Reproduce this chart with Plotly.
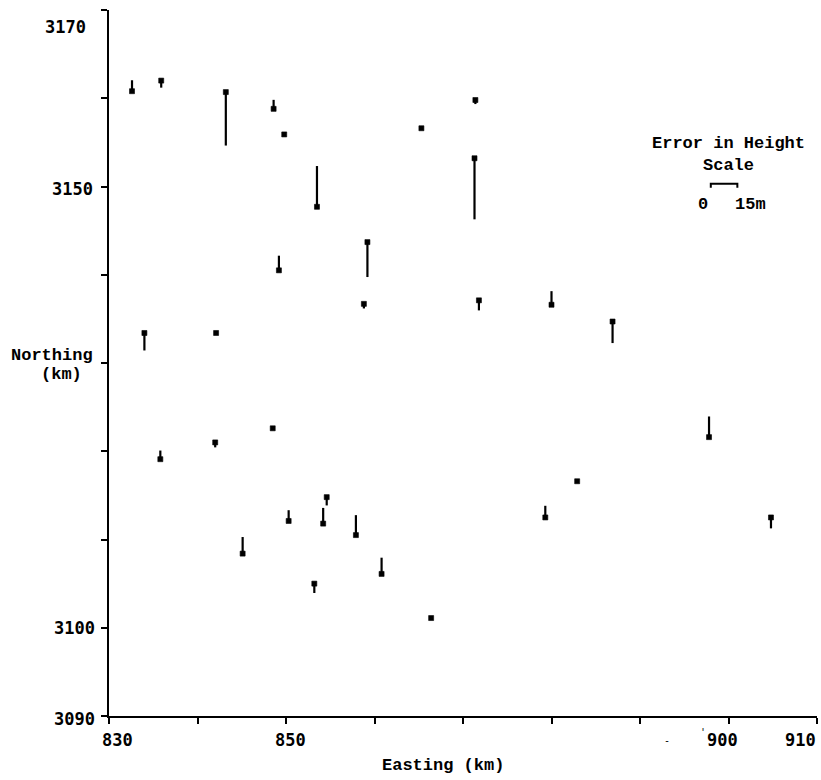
import plotly.graph_objects as go

# ---- data ----
easting = [832.6, 835.9, 843.2, 848.6, 849.8, 853.5, 865.3, 871.4, 871.3, 859.2,
           858.8, 871.8, 880.0, 849.2, 886.9, 834.0, 842.1, 835.8, 842.0, 848.5,
           854.6, 850.3, 854.2, 857.9, 845.1, 853.2, 860.8, 866.4, 882.9, 879.3,
           897.8, 904.8]
northing = [3160.8, 3162.0, 3160.7, 3158.8, 3155.9, 3147.7, 3156.6, 3159.8, 3153.2, 3143.7,
            3136.7, 3137.1, 3136.6, 3140.5, 3134.7, 3133.4, 3133.4, 3119.1, 3121.0, 3122.6,
            3114.8, 3112.1, 3111.8, 3110.5, 3108.4, 3105.0, 3106.1, 3101.1, 3116.6, 3112.5,
            3121.6, 3112.5]
# error in height (m), positive drawn upward
error_m = [6.2, -4.0, -30.3, 5.1, 0.0, 23.1, 0.0, -2.3, -34.6, -19.8,
           -2.6, -5.7, 7.7, 8.3, -12.2, -9.9, 0.0, 4.9, -2.8, 0.0,
           -4.7, 6.1, 8.9, 11.3, 9.4, -5.3, 9.2, 0.0, 0.0, 6.6,
           11.7, -6.2]

x_tick_vals = [830, 850, 900, 910]
x_tick_text = ["830", "850", "900", "910"]
y_tick_vals = [3170, 3150, 3100, 3090]
y_tick_text = ["3170", "3150", "3100", "3090"]

scale_m = 15          # scale bar length (m)
M_TO_KM = 0.2         # map km per metre of height error

# ---- styling constants ----
W, H = 821, 780
ML, MR, MT, MB = 109, 4, 10, 64
TEXT_FONT = "Liberation Mono"
NUM_FONT = "DejaVu Sans Mono"
FS = 17

# error lines
ex, ey = [], []
for x, y, e in zip(easting, northing, error_m):
    if e != 0:
        ex += [x, x, None]
        ey += [y, y + e * M_TO_KM, None]

fig = go.Figure()
fig.add_trace(go.Scatter(x=ex, y=ey, mode="lines",
                         line=dict(color="black", width=2.2),
                         hoverinfo="skip"))
fig.add_trace(go.Scatter(x=easting, y=northing, mode="markers",
                         marker=dict(symbol="square", size=5, color="black",
                                     line=dict(width=0.6, color="black"))))

# scale bar
sb_x0, sb_y, sb_hook = 898.0, 3150.3, 0.45
sb_x1 = sb_x0 + scale_m * M_TO_KM
fig.add_trace(go.Scatter(x=[sb_x0, sb_x0, sb_x1, sb_x1],
                         y=[sb_y - sb_hook, sb_y, sb_y, sb_y - sb_hook],
                         mode="lines", line=dict(color="black", width=2),
                         hoverinfo="skip"))

annotations = []
# x tick labels
x_shifts = [8, 4, -6, -17]
for v, t, s in zip(x_tick_vals, x_tick_text, x_shifts):
    annotations.append(dict(x=v, xref="x", y=0, yref="paper", text="<b>%s</b>" % t,
                            showarrow=False, xanchor="center", yanchor="middle",
                            xshift=s, yshift=-24,
                            font=dict(family=NUM_FONT, size=FS, color="black")))
# small apostrophe / speck artefacts near 900
annotations.append(dict(x=0.7895, xref="paper", y=-0.0368, yref="paper", text="-",
                        showarrow=False, xshift=4, yshift=-6,
                        font=dict(family=NUM_FONT, size=10, color="black")))
annotations.append(dict(x=900, xref="x", y=0, yref="paper", text="'",
                        showarrow=False, xshift=-26, yshift=-24,
                        font=dict(family=NUM_FONT, size=10, color="black")))
# y tick labels
y_xshift = [-21, -14, -12, -12]
y_yshift = [-17, -2.5, 0, -3]
for v, t, sx, sy in zip(y_tick_vals, y_tick_text, y_xshift, y_yshift):
    annotations.append(dict(x=0, xref="paper", y=v, yref="y", text="<b>%s</b>" % t,
                            showarrow=False, xanchor="right", yanchor="middle",
                            xshift=sx, yshift=sy,
                            font=dict(family=NUM_FONT, size=FS, color="black")))

def txt(s, x, y):
    annotations.append(dict(x=x, xref="paper", y=y, yref="paper", text="<b>%s</b>" % s,
                            showarrow=False, xanchor="center", yanchor="middle",
                            font=dict(family=TEXT_FONT, size=FS, color="black")))

txt("Northing", -0.0805, 0.5113)
txt("(km)", -0.0671, 0.4844)
txt("Easting (km)", 0.4718, -0.0708)
txt("Error in Height", 0.8743, 0.8102)
txt("Scale", 0.8743, 0.7795)
txt("0", 0.8386, 0.7238)
txt("15m", 0.9060, 0.7238)

axis_common = dict(showline=True, linecolor="black", linewidth=2,
                   ticks="outside", ticklen=6, tickwidth=2, tickcolor="black",
                   dtick=10, showgrid=False, zeroline=False, showticklabels=False)

fig.update_layout(
    width=W, height=H,
    margin=dict(l=ML, r=MR, t=MT, b=MB),
    paper_bgcolor="white", plot_bgcolor="white",
    showlegend=False,
    xaxis=dict(range=[830, 910], tick0=830, **axis_common),
    yaxis=dict(range=[3090, 3170], tick0=3090, **axis_common),
    annotations=annotations,
)

fig.write_html("out.html")
